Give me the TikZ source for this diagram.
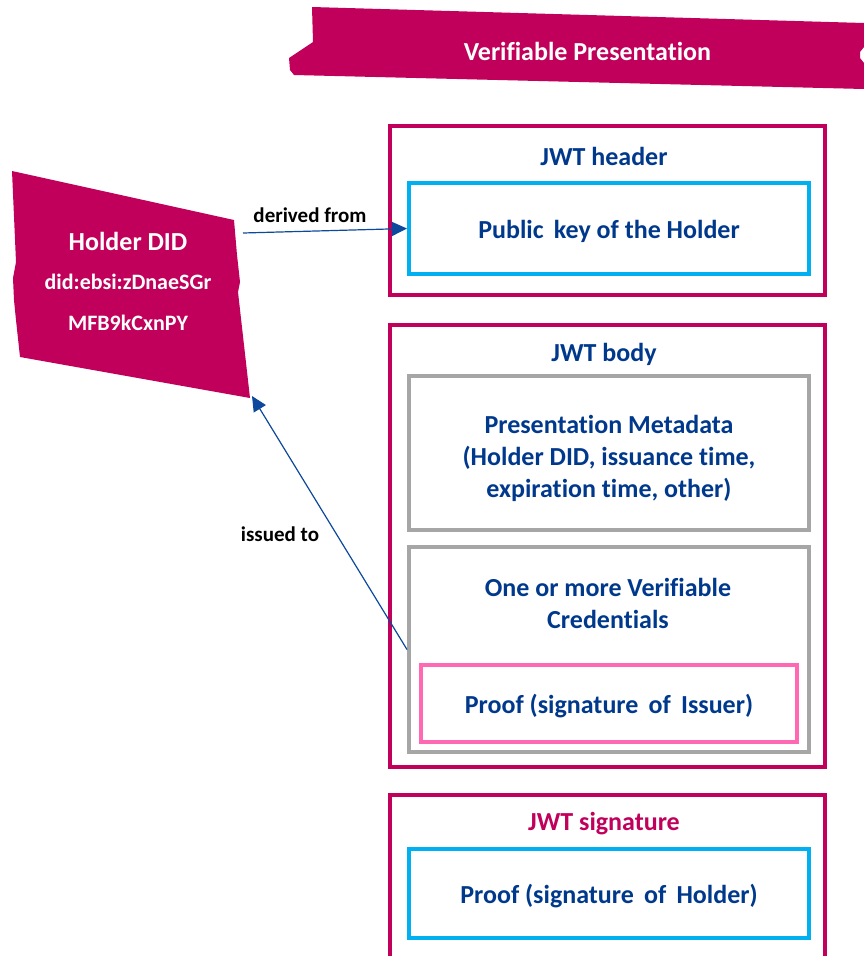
\documentclass[tikz,border=0pt]{standalone}
\usepackage{fontspec}
\setmainfont{Carlito}[Ligatures={NoCommon,NoContextual,NoRequired,NoDiscretionary},RawFeature={-liga;-clig;-calt}]
\usetikzlibrary{arrows.meta}

\definecolor{vpmagenta}{RGB}{192,0,90}
\definecolor{vpcyan}{RGB}{0,176,240}
\definecolor{vpgrey}{RGB}{166,166,166}
\definecolor{vppink}{RGB}{255,105,180}
\definecolor{vpnavy}{RGB}{0,57,140}
\definecolor{vparrow}{RGB}{12,72,156}

\tikzset{
  jwtpart/.style={draw=vpmagenta, line width=4pt, minimum width=435pt, inner sep=0pt},
  keybox/.style={draw=vpcyan, line width=4pt, minimum width=400pt, inner sep=0pt,
    text=vpnavy, text height=26pt, text depth=7pt, font=\fontsize{26}{32}\selectfont\bfseries},
  databox/.style={draw=vpgrey, line width=4pt, minimum width=400pt, inner sep=0pt},
  proofbox/.style={draw=vppink, line width=4pt, minimum width=376pt, inner sep=0pt,
    text=vpnavy, text height=26pt, text depth=7pt, font=\fontsize{26}{32}\selectfont\bfseries},
  parttitle/.style={text=vpnavy, align=center, font=\fontsize{26}{32}\selectfont\bfseries},
  linklabel/.style={text=black, font=\fontsize{21}{25}\selectfont\bfseries},
  link/.style={draw=vparrow, line width=1.2pt, -{Triangle[length=15pt,width=14pt]}}
}

\begin{document}
\begin{tikzpicture}[x=1pt,y=-1pt]
  \useasboundingbox (0,0) rectangle (864,956);
  \clip (0,0) rectangle (864,956);

  % banner
  \fill[vpmagenta] (312,7) -- (864,23) -- (864,47) -- (860,52) -- (860,58) -- (864,63)
    -- (864,89) -- (294,75) -- (290,70) -- (289,58) -- (313,42) -- cycle;
  \node[text=white, font=\fontsize{26}{30}\selectfont\bfseries] (vp) at (587.5,51) {Verifiable Presentation};

  % holder DID
  \fill[vpmagenta] (12,171) -- (234,220) -- (237,255) -- (240,282) -- (238,292)
    -- (250,398) -- (20,357) -- (16,320) -- (14,300) -- (13,278) -- (16,262) -- cycle;
  \node[text=white, font=\fontsize{26}{32}\selectfont\bfseries] (holder) at (128,241) {Holder DID};
  \node[text=white, font=\fontsize{22}{26}\selectfont\bfseries] (did1) at (128,282) {did:ebsi:zDnaeSGr};
  \node[text=white, font=\fontsize{22}{26}\selectfont\bfseries] (did2) at (128,323) {MFB9kCxnPY};
  \coordinate (holder-r) at (243,233);
  \coordinate (holder-c) at (252,396);

  % JWT header
  \node[jwtpart, minimum height=169pt] (header) at (607.5,210.5) {};
  \node[parttitle] (header-t) at (604,156) {JWT header};
  \node[keybox, minimum height=91pt] (pubkey) at (609,228.5) {Public\, key of the Holder};

  % JWT body
  \node[jwtpart, minimum height=442pt] (body) at (607.5,546) {};
  \node[parttitle] (body-t) at (604,354) {JWT body};
  \node[databox, minimum height=154pt] (meta) at (609,453) {};
  \node[parttitle] (meta-t) at (609,458)
    {Presentation Metadata\\(Holder DID, issuance time,\\expiration time, other)};
  \node[databox, minimum height=205pt] (vcs) at (609,649.5) {};
  \node[parttitle] (vcs-t) at (608,603) {One or more Verifiable\\Credentials};
  \node[proofbox, minimum height=77pt] (proof1) at (609,703.5) {Proof (signature\, of\, Issuer)};

  % JWT signature
  \node[jwtpart, minimum height=200pt] (sig) at (607.5,895) {};
  \node[parttitle, text=vpmagenta] (sig-t) at (604,823.5) {JWT signature};
  \node[keybox, minimum height=89pt] (proof2) at (609,893.5) {Proof (signature\, of\, Holder)};

  % links
  \draw[link] (holder-r) -- (pubkey.west);
  \node[linklabel] (derived) at (310,215) {derived from};
  \draw[link] (vcs.west) -- (holder-c);
  \node[linklabel] (issued) at (280,534) {issued to};
\end{tikzpicture}
\end{document}
